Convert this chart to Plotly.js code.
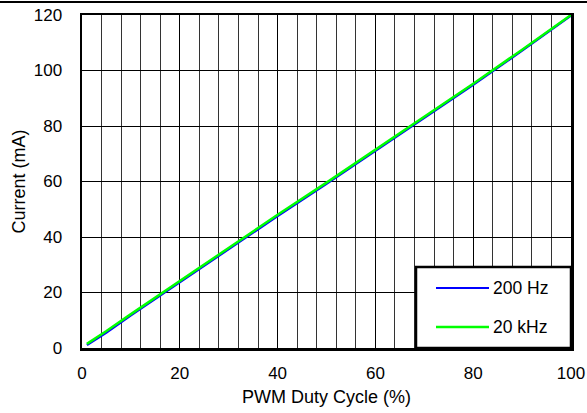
<!DOCTYPE html>
<html>
<head>
<meta charset="utf-8">
<script src="https://cdn.plot.ly/plotly-3.0.1.min.js"></script>
<style>
html, body { margin: 0; padding: 0; background: #fff; }
#chart { width: 587px; height: 413px; }
</style>
</head>
<body>
<div id="chart"></div>
<script>
// Data
const dutyCycle = [1, 5, 10, 20, 30, 40, 50, 60, 70, 80, 90, 100];
const current200Hz = [1.1, 5.6, 11.8, 23.8, 35.7, 47.6, 59.2, 71.0, 82.8, 94.9, 107.2, 119.8];
const current20kHz = [1.5, 6.1, 12.2, 24.2, 36.1, 48.0, 59.6, 71.4, 83.2, 95.2, 107.5, 120.0];
const seriesNames = ["200 Hz", "20 kHz"];
const xTickVals = [0, 20, 40, 60, 80, 100];
const yTickVals = [0, 20, 40, 60, 80, 100, 120];

const FONT = "Liberation Sans, Arial, sans-serif";
const colors = ["#0000ff", "#00ff00"];

const traces = [
  { x: dutyCycle, y: current200Hz, name: seriesNames[0], mode: "lines",
    line: { color: colors[0], width: 2.5 }, showlegend: false },
  { x: dutyCycle, y: current20kHz, name: seriesNames[1], mode: "lines",
    line: { color: colors[1], width: 2.5 }, showlegend: false }
];

const W = 587, H = 413, L = 82, R = 16, T = 15, B = 65;
const pw = W - L - R, ph = H - T - B;
const px = v => (v - L) / pw;        // pixel x -> paper
const py = v => (H - B - v) / ph;    // pixel y -> paper

const shapes = [
  // top rule across the whole figure
  { type: "line", xref: "paper", yref: "paper", x0: px(0), x1: px(587), y0: py(2), y1: py(2),
    line: { color: "#000", width: 2 } },
  // legend box
  { type: "rect", xref: "paper", yref: "paper", x0: px(416), x1: px(571), y0: py(348), y1: py(267),
    fillcolor: "#fff", line: { color: "#000", width: 2.5 }, layer: "above" },
  { type: "line", xref: "paper", yref: "paper", x0: px(436), x1: px(489), y0: py(288), y1: py(288),
    line: { color: colors[0], width: 2 }, layer: "above" },
  { type: "line", xref: "paper", yref: "paper", x0: px(436), x1: px(489), y0: py(327), y1: py(327),
    line: { color: colors[1], width: 2.5 }, layer: "above" }
];

const annotations = [
  { xref: "paper", yref: "paper", x: px(491), y: py(288), xanchor: "left", yanchor: "middle",
    text: seriesNames[0], showarrow: false, font: { family: FONT, size: 17.5, color: "#000" } },
  { xref: "paper", yref: "paper", x: px(491), y: py(327), xanchor: "left", yanchor: "middle",
    text: seriesNames[1], showarrow: false, font: { family: FONT, size: 17.5, color: "#000" } }
];

const layout = {
  width: W, height: H,
  margin: { l: L, r: R, t: T, b: B, pad: 0 },
  paper_bgcolor: "#fff", plot_bgcolor: "#fff",
  font: { family: FONT, size: 17, color: "#000" },
  showlegend: false,
  xaxis: {
    range: [0, 100], tickvals: xTickVals, ticktext: xTickVals.map(String),
    showgrid: true, gridcolor: "#000", gridwidth: 1,
    minor: { dtick: 4, tick0: 0, showgrid: true, gridcolor: "#333", gridwidth: 1, ticks: "" },
    showline: true, linecolor: "#000", linewidth: 2.5, mirror: true,
    ticks: "", ticklabelstandoff: 8, zeroline: false,
    tickfont: { family: FONT, size: 17, color: "#000" },
    title: { text: "PWM Duty Cycle (%)", font: { family: FONT, size: 18, color: "#000" }, standoff: 9 }
  },
  yaxis: {
    range: [0, 120], tickvals: yTickVals, ticktext: yTickVals.map(String),
    showgrid: true, gridcolor: "#000", gridwidth: 1,
    showline: true, linecolor: "#000", linewidth: 2.5, mirror: true,
    ticks: "", ticklabelstandoff: 14, zeroline: false,
    tickfont: { family: FONT, size: 17, color: "#000" },
    title: { text: "Current (mA)", font: { family: FONT, size: 18, color: "#000" }, standoff: 4 }
  },
  shapes: shapes,
  annotations: annotations
};

Plotly.newPlot("chart", traces, layout, { staticPlot: true, displayModeBar: false });
</script>
</body>
</html>
